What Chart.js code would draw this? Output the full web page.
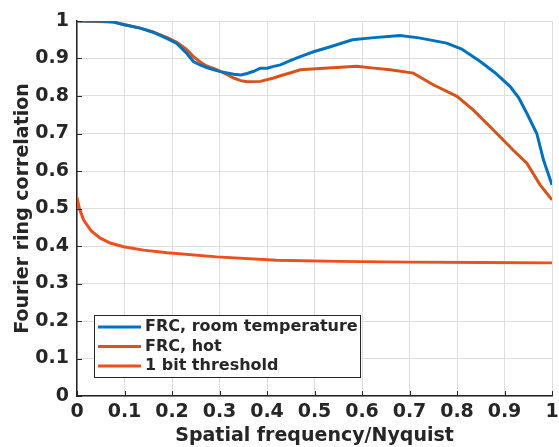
<!DOCTYPE html>
<html>
<head>
<meta charset="utf-8">
<script src="https://cdn.jsdelivr.net/npm/chart.js@4"></script>
<style>
  body { margin: 0; background: #fff; }
  canvas { display: block; }
</style>
</head>
<body>
<canvas id="frcChart" width="559" height="447"></canvas>
<script>
// values
const roomX = [0, 0.05, 0.077, 0.1, 0.133, 0.16, 0.19, 0.21, 0.23, 0.245, 0.26, 0.273, 0.29, 0.302, 0.33, 0.345, 0.358, 0.372, 0.386, 0.4, 0.414, 0.428, 0.45, 0.47, 0.498, 0.53, 0.58, 0.62, 0.68, 0.72, 0.778, 0.81, 0.849, 0.88, 0.912, 0.93, 0.947, 0.968, 0.982, 0.99, 1.0];
const roomY = [1.0, 1.0, 0.997, 0.99, 0.981, 0.97, 0.953, 0.94, 0.915, 0.892, 0.882, 0.876, 0.869, 0.865, 0.858, 0.856, 0.86, 0.866, 0.874, 0.874, 0.879, 0.883, 0.895, 0.905, 0.918, 0.93, 0.95, 0.955, 0.961, 0.955, 0.941, 0.925, 0.892, 0.862, 0.825, 0.795, 0.754, 0.70, 0.63, 0.6, 0.563];

const hotX = [0, 0.077, 0.1, 0.133, 0.16, 0.19, 0.21, 0.23, 0.245, 0.26, 0.273, 0.29, 0.302, 0.33, 0.345, 0.358, 0.386, 0.414, 0.428, 0.45, 0.47, 0.52, 0.589, 0.62, 0.659, 0.708, 0.75, 0.8, 0.834, 0.876, 0.918, 0.947, 0.975, 1.0];
const hotY = [1.0, 0.997, 0.99, 0.981, 0.971, 0.956, 0.943, 0.925, 0.905, 0.89, 0.88, 0.872, 0.866, 0.848, 0.841, 0.838, 0.839, 0.848, 0.854, 0.862, 0.87, 0.874, 0.879, 0.875, 0.87, 0.861, 0.83, 0.799, 0.763, 0.71, 0.656, 0.621, 0.563, 0.523];

const threshX = [0, 0.005, 0.014, 0.03, 0.049, 0.07, 0.098, 0.14, 0.19, 0.294, 0.42, 0.55, 0.7, 0.85, 1.0];
const threshY = [0.529, 0.5, 0.469, 0.44, 0.421, 0.408, 0.398, 0.389, 0.382, 0.371, 0.362, 0.359, 0.357, 0.356, 0.355];

const seriesLabels = ['FRC, room temperature', 'FRC, hot', '1 bit threshold'];

const toPoints = (xs, ys) => xs.map((x, i) => ({ x, y: ys[i] }));
const font = { family: 'DejaVu Sans', weight: 'bold', size: 19 };
const textColor = '#262626';
const tickText = (v) => String(Number(v.toFixed(1)));

// MATLAB-like inward tick marks on the left and bottom axes
const inwardTicks = {
  id: 'inwardTicks',
  afterDatasetsDraw(chart) {
    const { ctx, chartArea, scales } = chart;
    ctx.save();
    ctx.strokeStyle = '#262626';
    ctx.lineWidth = 1;
    ctx.beginPath();
    scales.x.ticks.forEach((t) => {
      const px = Math.round(scales.x.getPixelForValue(t.value)) + 0.5;
      ctx.moveTo(px, chartArea.bottom);
      ctx.lineTo(px, chartArea.bottom - 5);
    });
    scales.y.ticks.forEach((t) => {
      const py = Math.round(scales.y.getPixelForValue(t.value)) + 0.5;
      ctx.moveTo(chartArea.left, py);
      ctx.lineTo(chartArea.left + 5, py);
    });
    ctx.stroke();
    ctx.restore();
  }
};

// legend box drawn inside the plot, MATLAB style
const boxLegend = {
  id: 'boxLegend',
  afterDraw(chart) {
    const ctx = chart.ctx;
    const left = 94, top = 315, w = 266, h = 62;
    ctx.save();
    ctx.fillStyle = '#fff';
    ctx.fillRect(left, top, w, h);
    ctx.strokeStyle = '#262626';
    ctx.lineWidth = 1;
    ctx.strokeRect(left + 0.5, top + 0.5, w, h);
    ctx.font = 'bold 16px "DejaVu Sans"';
    ctx.textBaseline = 'middle';
    chart.data.datasets.forEach((ds, i) => {
      const y = top + 12 + i * 19.5;
      ctx.strokeStyle = ds.borderColor;
      ctx.lineWidth = 3;
      ctx.beginPath();
      ctx.moveTo(left + 4, y);
      ctx.lineTo(left + 47, y);
      ctx.stroke();
      ctx.fillStyle = textColor;
      ctx.fillText(ds.label, left + 51, y);
    });
    ctx.restore();
  }
};

new Chart(document.getElementById('frcChart'), {
  type: 'line',
  data: {
    datasets: [
      { label: seriesLabels[0], data: toPoints(roomX, roomY), borderColor: '#0072BD', borderWidth: 3, pointRadius: 0, tension: 0 },
      { label: seriesLabels[1], data: toPoints(hotX, hotY), borderColor: '#D95319', borderWidth: 3, pointRadius: 0, tension: 0 },
      { label: seriesLabels[2], data: toPoints(threshX, threshY), borderColor: '#F04E1E', borderWidth: 3, pointRadius: 0, tension: 0 },
    ],
  },
  options: {
    responsive: false,
    animation: false,
    layout: { padding: { top: 21, right: 0, left: 0, bottom: 0 } },
    plugins: { legend: { display: false }, tooltip: { enabled: false } },
    scales: {
      x: {
        type: 'linear',
        min: 0, max: 1,
        ticks: { stepSize: 0.1, font, color: textColor, padding: 5, maxRotation: 0, callback: tickText },
        grid: { color: '#dedede', drawTicks: false },
        border: { color: '#262626', width: 1.5 },
        title: { display: true, text: 'Spatial frequency/Nyquist', font, color: textColor, padding: { top: 0, bottom: 0 } },
        afterFit: (scale) => { scale.height = 51; scale.paddingRight = 7; },
      },
      y: {
        min: 0, max: 1,
        ticks: { stepSize: 0.1, font, color: textColor, padding: 8, callback: tickText },
        grid: { color: '#dedede', drawTicks: false },
        border: { color: '#262626', width: 1.5 },
        title: { display: true, text: 'Fourier ring correlation', font, color: textColor, padding: { top: 12, bottom: 0 } },
        afterFit: (scale) => { scale.width = 77; },
      },
    },
  },
  plugins: [inwardTicks, boxLegend],
});
</script>
</body>
</html>
